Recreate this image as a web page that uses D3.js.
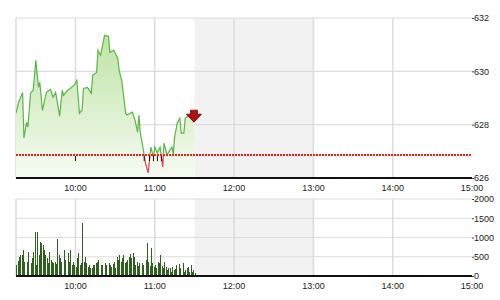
<!DOCTYPE html>
<html>
<head>
<meta charset="utf-8">
<script src="https://cdn.jsdelivr.net/npm/d3@7"></script>
<style>
  body { margin: 0; background: #fff; }
  text { font-family: "Liberation Sans", Arial, sans-serif; font-size: 9px; fill: #222; }
</style>
</head>
<body>
<script>
// size of the picture
let width = 500;
let height = 300;

// time of day, minutes after 9:15
const tickMins = [45, 105, 165, 225, 285, 345];
const tickLabels = ["10:00", "11:00", "12:00", "13:00", "14:00", "15:00"];
const lunchMins = [135, 225];

// price series
const priceMins = [0, 2, 5, 6, 8, 9, 11, 13, 15, 17, 18, 20, 23, 26, 28, 30, 33, 35, 36, 39,
  41, 44, 46, 48, 50, 51, 54, 57, 58, 61, 62, 64, 67, 70, 71, 74, 77, 78, 80, 83,
  84, 88, 90, 92, 93, 94, 96, 98, 100, 102, 104, 105, 107, 109, 111, 112, 114, 115, 118, 119,
  120, 122, 124, 125, 127, 128, 131, 132, 134, 135];
const prices = [628.43, 628.84, 629.21, 627.50, 628.09, 627.91, 629.18, 629.29, 630.41, 629.40,
  629.59, 628.54, 629.21, 629.33, 629.03, 629.21, 628.32, 629.29, 629.10, 629.29,
  629.36, 629.48, 629.66, 628.43, 628.54, 629.36, 629.40, 629.18, 629.85, 629.96,
  630.79, 630.60, 631.35, 631.31, 630.71, 630.79, 630.49, 630.04, 629.66, 628.43,
  628.36, 628.47, 628.17, 627.72, 628.36, 627.72, 627.16, 626.56, 626.19, 627.16,
  626.79, 627.16, 626.93, 627.16, 626.41, 627.31, 626.90, 626.93, 627.16, 626.90,
  627.53, 628.06, 628.24, 627.68, 627.68, 628.24, 628.36, 628.36, 628.47, 628.28];
const prevClose = 626.86;
const priceTicks = [626, 628, 630, 632];

// small trade markers under the reference line
const markerMins = [45, 97, 101, 104, 107, 110];

// volume, one bar per minute from 9:15
const volumes = [286, 400, 503, 546, 546, 676, 373, 243, 373, 633,
  286, 329, 460, 633, 1153, 286, 1136, 546, 876, 850,
  806, 676, 546, 460, 329, 633, 416, 373, 329, 373,
  300, 962, 546, 460, 373, 329, 676, 416, 503, 590,
  373, 676, 286, 373, 286, 243, 460, 590, 286, 350,
  1370, 373, 503, 329, 243, 286, 200, 200, 286, 286,
  329, 373, 416, 373, 286, 286, 243, 329, 290, 373,
  329, 286, 243, 310, 373, 200, 503, 420, 546, 373,
  460, 546, 330, 373, 416, 503, 563, 480, 590, 503,
  286, 373, 250, 329, 910, 329, 280, 806, 416, 850,
  373, 260, 720, 329, 243, 286, 200, 373, 329, 546,
  250, 200, 373, 243, 156, 220, 200, 113, 243, 156,
  190, 286, 243, 303, 200, 160, 329, 113, 156, 200,
  243, 113, 286, 113, 150, 70];
const volumeTicks = [0, 500, 1000, 1500, 2000];

// colours
let grid_color = "#dcdcdc";
let lunch_color = "#f2f2f2";
let up_color = "#5cb548";
let down_color = "#e2405e";
let bar_color = "#2f5f1f";

let svg = d3.select("body").append("svg")
  .attr("width", width)
  .attr("height", height);

const left = 16, right = 472;

const x = d3.scaleLinear().domain([0, 345]).range([left, right]);
const y = d3.scaleLinear().domain([626, 632]).range([178, 18]);
const yv = d3.scaleLinear().domain([0, 2000]).range([276, 199]);

const defs = svg.append("defs");
const grad = defs.append("linearGradient")
  .attr("id", "fillGrad")
  .attr("gradientUnits", "userSpaceOnUse")
  .attr("x1", 0).attr("x2", 0)
  .attr("y1", y(631.5)).attr("y2", y(626));
grad.append("stop").attr("offset", 0).attr("stop-color", "#bde3a3");
grad.append("stop").attr("offset", 1).attr("stop-color", "#f6fbf3");

defs.append("clipPath").attr("id", "aboveRef")
  .append("rect")
  .attr("x", left).attr("y", y(632))
  .attr("width", right - left).attr("height", y(prevClose) - y(632));
defs.append("clipPath").attr("id", "belowRef")
  .append("rect")
  .attr("x", left).attr("y", y(prevClose))
  .attr("width", right - left).attr("height", y(626) - y(prevClose));

// draws the frame of a panel: lunch shading, grid, right-hand labels
function drawPanel(yScale, ticks) {
  let g = svg.append("g");
  g.append("rect")
    .attr("x", x(lunchMins[0])).attr("y", yScale.range()[1])
    .attr("width", x(lunchMins[1]) - x(lunchMins[0]))
    .attr("height", yScale.range()[0] - yScale.range()[1])
    .attr("fill", lunch_color);

  g.selectAll(".hgrid")
    .data(ticks.slice(1))
    .enter().append("line")
    .attr("x1", left).attr("x2", right)
    .attr("y1", d => yScale(d)).attr("y2", d => yScale(d))
    .attr("stroke", grid_color).attr("stroke-width", 1.2);

  g.selectAll(".vgrid")
    .data(tickMins.slice(0, -1))
    .enter().append("line")
    .attr("x1", d => x(d)).attr("x2", d => x(d))
    .attr("y1", yScale.range()[1]).attr("y2", yScale.range()[0])
    .attr("stroke", grid_color).attr("stroke-width", 1.5);

  g.append("line")
    .attr("x1", left).attr("x2", left)
    .attr("y1", yScale.range()[1]).attr("y2", yScale.range()[0])
    .attr("stroke", grid_color).attr("stroke-width", 1.5);

  let axis = d3.axisRight(yScale).tickValues(ticks).tickSize(2).tickPadding(0).tickFormat(d3.format("d"));
  let ag = g.append("g").attr("transform", `translate(${right},0)`).call(axis);
  ag.select(".domain").remove();
  ag.selectAll("line").attr("stroke", "#444");
  ag.selectAll("text").attr("font-size", 9).attr("font-family", "Liberation Sans, Arial, sans-serif").attr("fill", "#222");
  return g;
}

// ---- price panel ----
drawPanel(y, priceTicks);

const pts = priceMins.map((m, i) => [m, prices[i]]);

svg.append("path")
  .datum(pts)
  .attr("fill", "url(#fillGrad)")
  .attr("d", d3.area().x(d => x(d[0])).y0(y(626)).y1(d => y(d[1])));

const line = d3.line().x(d => x(d[0])).y(d => y(d[1]));
svg.append("path").datum(pts)
  .attr("fill", "none").attr("stroke", up_color).attr("stroke-width", 1.2)
  .attr("clip-path", "url(#aboveRef)").attr("d", line);
svg.append("path").datum(pts)
  .attr("fill", "none").attr("stroke", down_color).attr("stroke-width", 1.2)
  .attr("clip-path", "url(#belowRef)").attr("d", line);

// previous close line
svg.append("line")
  .attr("x1", left).attr("x2", right)
  .attr("y1", y(prevClose)).attr("y2", y(prevClose))
  .attr("stroke", "#ff1a1a").attr("stroke-width", 2)
  .attr("stroke-dasharray", "2,1");

svg.selectAll(".marker")
  .data(markerMins)
  .enter().append("line")
  .attr("x1", d => x(d)).attr("x2", d => x(d))
  .attr("y1", y(prevClose) + 1).attr("y2", y(prevClose) + 6)
  .attr("stroke", "#111").attr("stroke-width", 1);

// down arrow at the last price
{
  let ax = x(priceMins[priceMins.length - 1]);
  let ay = y(prices[prices.length - 1]);
  svg.append("path")
    .attr("d", `M${ax - 4},${ay - 7} h7 v4 h4 l-7.5,8 l-7.5,-8 h4 z`)
    .attr("fill", "#b01010").attr("stroke", "#6a0000").attr("stroke-width", 0.8);
}

svg.append("line")
  .attr("x1", left).attr("x2", right)
  .attr("y1", y(626)).attr("y2", y(626))
  .attr("stroke", "#111").attr("stroke-width", 2);

// time labels between the panels and under the bottom panel
[188, 286].forEach(ty => {
  svg.append("g").selectAll("text")
    .data(tickMins)
    .enter().append("text")
    .attr("x", d => x(d)).attr("y", ty)
    .attr("dy", "0.35em")
    .attr("text-anchor", "middle")
    .text((d, i) => tickLabels[i]);
});

// ---- volume panel ----
drawPanel(yv, volumeTicks);

const bw = x(1) - x(0);
svg.append("g")
  .attr("shape-rendering", "crispEdges")
  .selectAll(".bar")
  .data(volumes)
  .enter().append("rect")
  .attr("x", (d, i) => x(i) + 0.3)
  .attr("y", d => yv(d))
  .attr("width", bw - 0.4)
  .attr("height", d => yv(0) - yv(d))
  .attr("fill", bar_color);

svg.append("line")
  .attr("x1", left).attr("x2", right)
  .attr("y1", yv(0)).attr("y2", yv(0))
  .attr("stroke", "#111").attr("stroke-width", 2);
</script>
</body>
</html>
